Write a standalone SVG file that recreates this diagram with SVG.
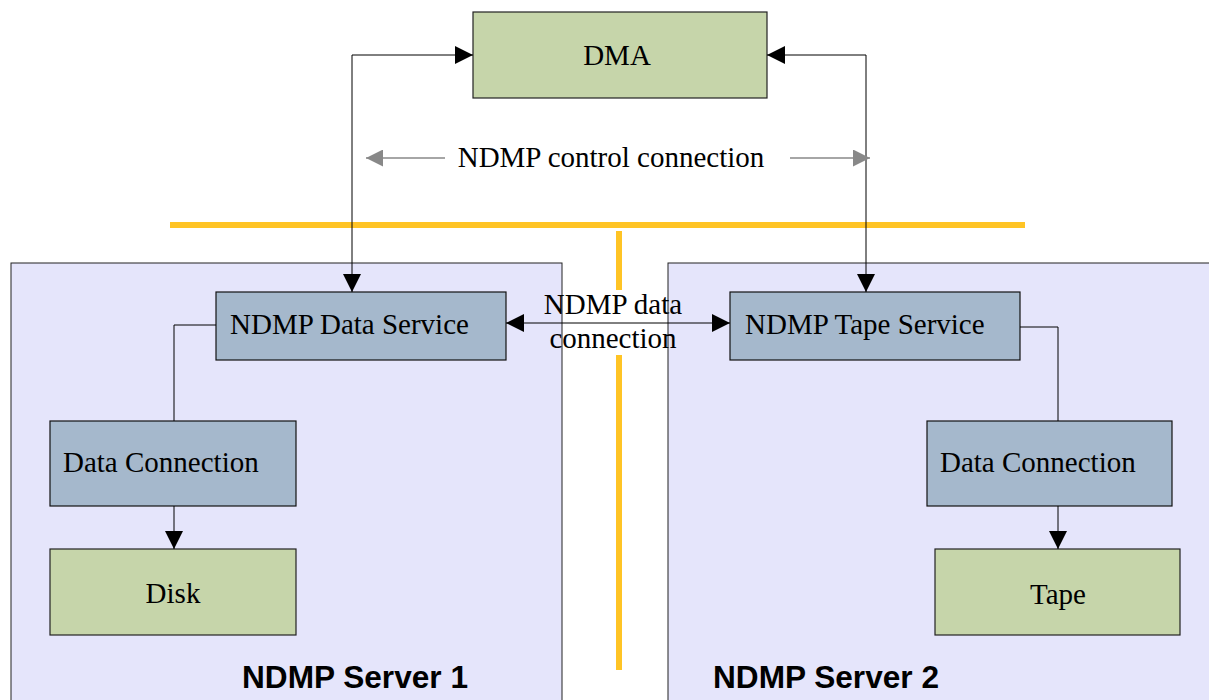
<svg xmlns="http://www.w3.org/2000/svg" width="1209" height="700" viewBox="0 0 1209 700">
<defs>
<style>
.serif{font-family:"Liberation Serif","Times New Roman",serif;font-size:29px;fill:#000}
.bold{font-family:"Liberation Sans",Arial,sans-serif;font-size:31.6px;font-weight:bold;fill:#000}
.server{fill:#E5E5FB;stroke:#222;stroke-width:1}
.blue{fill:#A5B8CC;stroke:#111;stroke-width:1.2}
.green{fill:#C6D5AA;stroke:#222;stroke-width:1.2}
.conn{fill:none;stroke:#000;stroke-width:1}
.gray{fill:none;stroke:#888;stroke-width:1.5}
.orange{stroke:#FFC425;stroke-width:6;fill:none}
</style>
<marker id="ah" viewBox="0 0 10 10" refX="10" refY="5" markerWidth="18" markerHeight="18" markerUnits="userSpaceOnUse" orient="auto-start-reverse">
<path d="M0,0 L10,5 L0,10 Z" fill="#000"/>
</marker>
<marker id="gh" viewBox="0 0 10 10" refX="10" refY="5" markerWidth="17" markerHeight="17" markerUnits="userSpaceOnUse" orient="auto-start-reverse">
<path d="M0,0 L10,5 L0,10 Z" fill="#888"/>
</marker>
</defs>
<rect width="1209" height="700" fill="#fff"/>

<g id="server1">
<rect class="server" x="11" y="263" width="551" height="450"/>
<text class="bold" x="242" y="688">NDMP Server 1</text>
</g>
<g id="server2">
<rect class="server" x="668" y="263" width="560" height="450"/>
<text class="bold" x="713" y="688">NDMP Server 2</text>
</g>

<g id="dividers">
<line class="orange" x1="170" y1="225" x2="1025" y2="225"/>
<line class="orange" x1="619" y1="231" x2="619" y2="290"/>
<line class="orange" x1="619" y1="355" x2="619" y2="670"/>
</g>

<g id="dma">
<rect class="green" x="473" y="12" width="294" height="86"/>
<text class="serif" x="617" y="65" text-anchor="middle">DMA</text>
</g>

<g id="data-service">
<rect class="blue" x="216" y="292" width="290" height="68"/>
<text class="serif" x="230" y="334">NDMP Data Service</text>
</g>
<g id="tape-service">
<rect class="blue" x="730" y="292" width="290" height="68"/>
<text class="serif" x="745" y="334">NDMP Tape Service</text>
</g>
<g id="data-connection-1">
<rect class="blue" x="50" y="421" width="246" height="85"/>
<text class="serif" x="63" y="472">Data Connection</text>
</g>
<g id="data-connection-2">
<rect class="blue" x="927" y="421" width="245" height="85"/>
<text class="serif" x="940" y="472">Data Connection</text>
</g>
<g id="disk">
<rect class="green" x="50" y="549" width="246" height="86"/>
<text class="serif" x="173" y="603" text-anchor="middle">Disk</text>
</g>
<g id="tape">
<rect class="green" x="935" y="549" width="245" height="86"/>
<text class="serif" x="1058" y="604" text-anchor="middle">Tape</text>
</g>

<g id="connectors">
<path class="conn" d="M352,292 L352,55 L473,55" marker-start="url(#ah)" marker-end="url(#ah)"/>
<path class="conn" d="M866,292 L866,55 L767,55" marker-start="url(#ah)" marker-end="url(#ah)"/>
<line class="conn" x1="506" y1="323" x2="730" y2="323" marker-start="url(#ah)" marker-end="url(#ah)"/>
<path class="conn" d="M216,325 L174,325 L174,421"/>
<line class="conn" x1="174" y1="506" x2="174" y2="549" marker-end="url(#ah)"/>
<path class="conn" d="M1020,327 L1058,327 L1058,421"/>
<line class="conn" x1="1058" y1="506" x2="1058" y2="549" marker-end="url(#ah)"/>
<line class="gray" x1="445" y1="158" x2="366" y2="158" marker-end="url(#gh)"/>
<line class="gray" x1="790" y1="158" x2="870" y2="158" marker-end="url(#gh)"/>
<text class="serif" x="611" y="167" text-anchor="middle">NDMP control connection</text>
<text class="serif" x="613" y="314" text-anchor="middle">NDMP data</text>
<text class="serif" x="613" y="348" text-anchor="middle">connection</text>
</g>
</svg>
